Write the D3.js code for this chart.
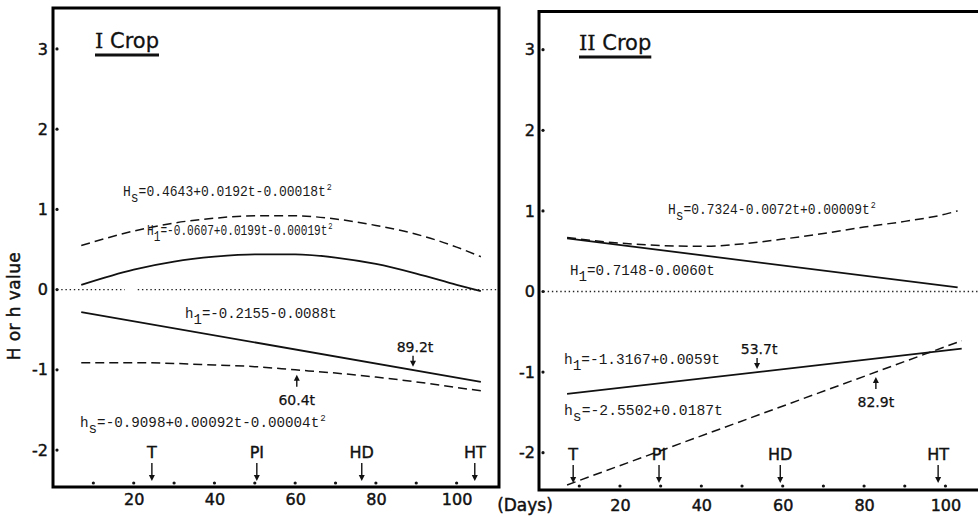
<!DOCTYPE html>
<html>
<head>
<meta charset="utf-8">
<script src="https://cdn.jsdelivr.net/npm/d3@7"></script>
<style>
  html, body { margin: 0; padding: 0; background: #fff; }
  svg { display: block; }
  .tick text { font-family: "DejaVu Sans", sans-serif; font-size: 16px; fill: #111; stroke: #111; stroke-width: 0.45px; }
  .eq { font-family: "Liberation Mono", "DejaVu Sans Mono", monospace; font-size: 14px; fill: #1a1a1a; }
  .note { font-family: "DejaVu Sans", sans-serif; font-size: 14px; fill: #111; stroke: #111; stroke-width: 0.25px; }
  .stage { font-family: "DejaVu Sans", sans-serif; font-size: 16px; fill: #111; text-anchor: middle; stroke: #111; stroke-width: 0.4px; }
  .title { font-family: "DejaVu Sans", sans-serif; font-size: 21px; fill: #111; stroke: #111; stroke-width: 0.3px; }
  .axis-title { font-family: "DejaVu Sans", sans-serif; font-size: 17px; fill: #111; stroke: #111; stroke-width: 0.45px; }
</style>
</head>
<body>
<svg id="chart" width="978" height="517"></svg>
<script>
// ---- I Crop: H and h values against days after transplanting ----
const daysI = [7, 20, 30, 40, 50, 60, 70, 80, 90, 100, 106];
const HsI   = [0.55, 0.73, 0.83, 0.89, 0.92, 0.92, 0.88, 0.80, 0.69, 0.53, 0.41];
const HlI   = [0.06, 0.25, 0.35, 0.41, 0.44, 0.44, 0.40, 0.32, 0.20, 0.06, -0.02];
const hsI   = [-0.91, -0.91, -0.92, -0.94, -0.96, -1.00, -1.04, -1.09, -1.15, -1.22, -1.26];
const hlDaysI = [7, 106];
const hlI     = [-0.28, -1.15];

// ---- II Crop ----
const daysII = [7, 20, 30, 40, 50, 60, 70, 80, 90, 100, 103];
const HsII   = [0.67, 0.60, 0.57, 0.56, 0.59, 0.65, 0.72, 0.80, 0.87, 0.96, 1.00];
const HlDaysII = [7, 103];
const HlII     = [0.66, 0.05];
const hDaysII  = [7, 104];
const hlII     = [-1.27, -0.71];
const hsII     = [-2.40, -0.61];

// Growth stages (transplanting, panicle initiation, heading, harvest)
const stageLabels  = ["T", "PI", "HD", "HT"];
const stageDaysI   = [24.5, 50.5, 76.5, 104.5];
const stageDaysII  = [8.5, 29.6, 59.4, 98.2];

// Days at which h curves cross the -1 level
const crossLevel   = -1;
const crossDaysI   = [89.2, 60.4];   // h_l (from above), h_s (from below)
const crossDaysII  = [53.7, 82.9];

// Regression equations: [letter, subscript, body, superscript]
const eqTextI = [
  ["H", "s", "=0.4643+0.0192t-0.00018t", "2"],
  ["H", "1", "=-0.0607+0.0199t-0.00019t", "2"],
  ["h", "1", "=-0.2155-0.0088t", ""],
  ["h", "s", "=-0.9098+0.00092t-0.00004t", "2"]
];
const eqTextII = [
  ["H", "s", "=0.7324-0.0072t+0.00009t", "2"],
  ["H", "1", "=0.7148-0.0060t", ""],
  ["h", "1", "=-1.3167+0.0059t", ""],
  ["h", "s", "=-2.5502+0.0187t", ""]
];

// Tick values
const xDotTicks   = [10, 20, 30, 40, 50, 60, 70, 80, 90, 100];
const xLabelTicks = [20, 40, 60, 80, 100];
const yTicks      = [-2, -1, 0, 1, 2, 3];

const svg = d3.select("#chart");

function pairs(xs, ys) { return xs.map((x, i) => [x, ys[i]]); }

function arrowDown(g, x, yTail, yTip) {
  g.append("line").attr("x1", x).attr("x2", x).attr("y1", yTail).attr("y2", yTip - 4)
    .attr("stroke", "#111").attr("stroke-width", 1.4);
  g.append("path").attr("d", `M${x - 3},${yTip - 6}L${x + 3},${yTip - 6}L${x},${yTip}Z`).attr("fill", "#111");
}
function arrowUp(g, x, yTail, yTip) {
  g.append("line").attr("x1", x).attr("x2", x).attr("y1", yTail).attr("y2", yTip + 4)
    .attr("stroke", "#111").attr("stroke-width", 1.4);
  g.append("path").attr("d", `M${x - 3},${yTip + 6}L${x + 3},${yTip + 6}L${x},${yTip}Z`).attr("fill", "#111");
}

// Typed equation: letter, lowered subscript, body and small raised exponent,
// narrowed horizontally to the given width like the typewriter lettering.
function drawEq(g, parts, x, y, width) {
  const t = g.append("text").attr("class", "eq").attr("x", 0).attr("y", 0);
  t.append("tspan").text(parts[0]);
  t.append("tspan").attr("dy", 6).text(parts[1]);
  t.append("tspan").attr("dy", -6).text(parts[2]);
  if (parts[3]) t.append("tspan").attr("dx", 1).attr("dy", -6).attr("font-size", 9).text(parts[3]);
  const natural = t.node().getComputedTextLength();
  t.attr("transform", `translate(${x},${y}) scale(${(width / natural).toFixed(4)},1)`);
}

function drawPanel(cfg) {
  const g = svg.append("g");
  const x = d3.scaleLinear().domain(cfg.xDomain).range([cfg.left, cfg.right]);
  const y = d3.scaleLinear().domain(cfg.yDomain).range([cfg.bottom, cfg.top]);

  // frame
  const fr = cfg.closed
    ? `M${cfg.left},${cfg.top}H${cfg.right}V${cfg.bottom}H${cfg.left}Z`
    : `M${978},${cfg.top}H${cfg.left}V${cfg.bottom}H${978}`;
  g.append("path").attr("d", fr).attr("fill", "none").attr("stroke", "#000")
    .attr("stroke-width", 3).attr("stroke-linejoin", "miter");

  // tick dots
  g.selectAll(".xdot").data(xDotTicks).join("circle")
    .attr("cx", d => x(d)).attr("cy", cfg.bottom - 4).attr("r", 1.6).attr("fill", "#111");
  g.selectAll(".ydot").data(yTicks).join("circle")
    .attr("cx", cfg.left + 4).attr("cy", d => y(d)).attr("r", 1.6).attr("fill", "#111");

  // tick labels
  const ax = g.append("g").attr("transform", `translate(0,${cfg.bottom})`)
    .call(d3.axisBottom(x).tickValues(xLabelTicks).tickSize(0).tickPadding(cfg.xPad));
  ax.select(".domain").remove();
  const ay = g.append("g").attr("transform", `translate(${cfg.left},0)`)
    .call(d3.axisLeft(y).tickValues(yTicks).tickSize(0).tickPadding(cfg.yPad));
  ay.select(".domain").remove();
  ay.selectAll("text").text(d => (d < 0 ? "-" + Math.abs(d) : d));

  // zero reference line
  cfg.zeroSpans.forEach(s => {
    g.append("line").attr("x1", x(s[0])).attr("x2", x(s[1])).attr("y1", y(0)).attr("y2", y(0))
      .attr("stroke", "#222").attr("stroke-width", 1.4).attr("stroke-dasharray", "1.4,2.8");
  });

  // curves
  const line = d3.line().x(d => x(d[0])).y(d => y(d[1])).curve(d3.curveMonotoneX);
  cfg.series.forEach(s => {
    g.append("path").attr("d", line(s.pts)).attr("fill", "none").attr("stroke", "#111")
      .attr("stroke-width", s.dashed ? 1.5 : 1.8)
      .attr("stroke-dasharray", s.dashed ? "9,5" : null);
  });

  // crossing notes
  cfg.cross.forEach(c => {
    const cx = x(c.day), cy = y(crossLevel);
    if (c.from === "above") {
      const tip = cy - 3, tail = tip - 11;
      arrowDown(g, cx, tail, tip);
      g.append("text").attr("class", "note").attr("x", cx + 2).attr("y", tail - 4)
        .attr("text-anchor", "middle").text(c.day.toFixed(1) + "t");
    } else {
      const tip = cy + 5, tail = tip + 12;
      arrowUp(g, cx, tail, tip);
      g.append("text").attr("class", "note").attr("x", cx).attr("y", tail + 18)
        .attr("text-anchor", "middle").text(c.day.toFixed(1) + "t");
    }
  });

  // growth stages
  cfg.stages.forEach((d, i) => {
    const sx = x(d);
    g.append("text").attr("class", "stage").attr("x", sx).attr("y", cfg.stageY).text(stageLabels[i]);
    arrowDown(g, sx, cfg.stageY + 5, cfg.stageY + 23);
  });

  // equations
  cfg.eqs.forEach((e, i) => drawEq(g, e, cfg.eqPos[i][0], cfg.eqPos[i][1], cfg.eqPos[i][2]));

  // title
  const tt = g.append("text").attr("class", "title").attr("x", cfg.titleX).attr("y", cfg.titleY);
  tt.append("tspan").attr("font-family", "DejaVu Serif, serif").text(cfg.roman);
  tt.append("tspan").text(" Crop");
  const w = tt.node().getComputedTextLength();
  g.append("line").attr("x1", cfg.titleX).attr("x2", cfg.titleX + w)
    .attr("y1", cfg.titleY + 7).attr("y2", cfg.titleY + 7)
    .attr("stroke", "#111").attr("stroke-width", 3);
}

drawPanel({
  closed: true,
  left: 53, right: 499, top: 8, bottom: 487,
  xDomain: [0, 110.5], yDomain: [-2.46, 3.51],
  xPad: 7, yPad: 5,
  zeroSpans: [[1, 17.8], [21, 110.3]],
  series: [
    { pts: pairs(daysI, HsI), dashed: true },
    { pts: pairs(daysI, HlI), dashed: false },
    { pts: pairs(hlDaysI, hlI), dashed: false },
    { pts: pairs(daysI, hsI), dashed: true }
  ],
  cross: [{ day: crossDaysI[0], from: "above" }, { day: crossDaysI[1], from: "below" }],
  stages: stageDaysI, stageY: 458,
  eqs: eqTextI,
  eqPos: [[123, 196, 208], [147, 235, 185], [185, 318, 152], [80, 427, 245]],
  roman: "I", titleX: 95, titleY: 48
});

drawPanel({
  closed: false,
  left: 539, right: 978, top: 11.5, bottom: 490,
  xDomain: [0.1, 108], yDomain: [-2.463, 3.474],
  xPad: 10, yPad: 4,
  zeroSpans: [[1.2, 108]],
  series: [
    { pts: pairs(daysII, HsII), dashed: true },
    { pts: pairs(HlDaysII, HlII), dashed: false },
    { pts: pairs(hDaysII, hlII), dashed: false },
    { pts: pairs(hDaysII, hsII), dashed: true }
  ],
  cross: [{ day: crossDaysII[0], from: "above" }, { day: crossDaysII[1], from: "below" }],
  stages: stageDaysII, stageY: 460,
  eqs: eqTextII,
  eqPos: [[668, 214, 207], [570, 275, 145], [564, 364, 156], [564, 415, 159]],
  roman: "II", titleX: 579, titleY: 50
});

// shared axis titles
svg.append("text").attr("class", "axis-title")
  .attr("transform", "translate(20,306) rotate(-90)")
  .attr("text-anchor", "middle").attr("letter-spacing", 0.4).text("H or h value");
svg.append("text").attr("class", "axis-title")
  .attr("x", 525).attr("y", 511).attr("text-anchor", "middle").text("(Days)");
</script>
</body>
</html>
